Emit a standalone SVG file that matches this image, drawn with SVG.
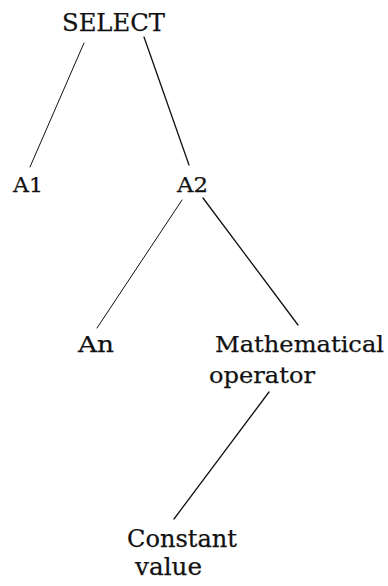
<svg xmlns="http://www.w3.org/2000/svg" width="388" height="586" viewBox="0 0 388 586">
<style>
text{font-family:"DejaVu Serif","Liberation Serif",serif;fill:#111;stroke:#111;stroke-width:0.25;}
.e{stroke:#111;stroke-width:1.3;fill:none;stroke-linecap:round;}
.thin{stroke-width:1;}
</style>
<rect width="388" height="586" fill="#fff"/>
<g id="connectors">
<line class="e thin" x1="84" y1="43" x2="30" y2="167"/>
<line class="e" x1="144" y1="37" x2="189" y2="165"/>
<line class="e thin" x1="182" y1="200" x2="97" y2="328"/>
<line class="e" x1="203" y1="198" x2="298" y2="325"/>
<line class="e" x1="269" y1="392" x2="174" y2="519"/>
</g>
<g id="select"><text x="62" y="31" font-size="25" textLength="103" lengthAdjust="spacingAndGlyphs">SELECT</text></g>
<g id="a1"><text x="13" y="192" font-size="20" textLength="30" lengthAdjust="spacingAndGlyphs">A1</text></g>
<g id="a2"><text x="177" y="192" font-size="20" textLength="31" lengthAdjust="spacingAndGlyphs">A2</text></g>
<g id="an"><text x="78" y="352" font-size="23" textLength="36" lengthAdjust="spacingAndGlyphs">An</text></g>
<g id="math">
<text x="215" y="352" font-size="23" textLength="169" lengthAdjust="spacingAndGlyphs">Mathematical</text>
<text x="209" y="383" font-size="23" textLength="106" lengthAdjust="spacingAndGlyphs">operator</text>
</g>
<g id="constant">
<text x="127" y="547" font-size="25" textLength="110" lengthAdjust="spacingAndGlyphs">Constant</text>
<text x="135" y="575" font-size="25" textLength="67" lengthAdjust="spacingAndGlyphs">value</text>
</g>
</svg>
